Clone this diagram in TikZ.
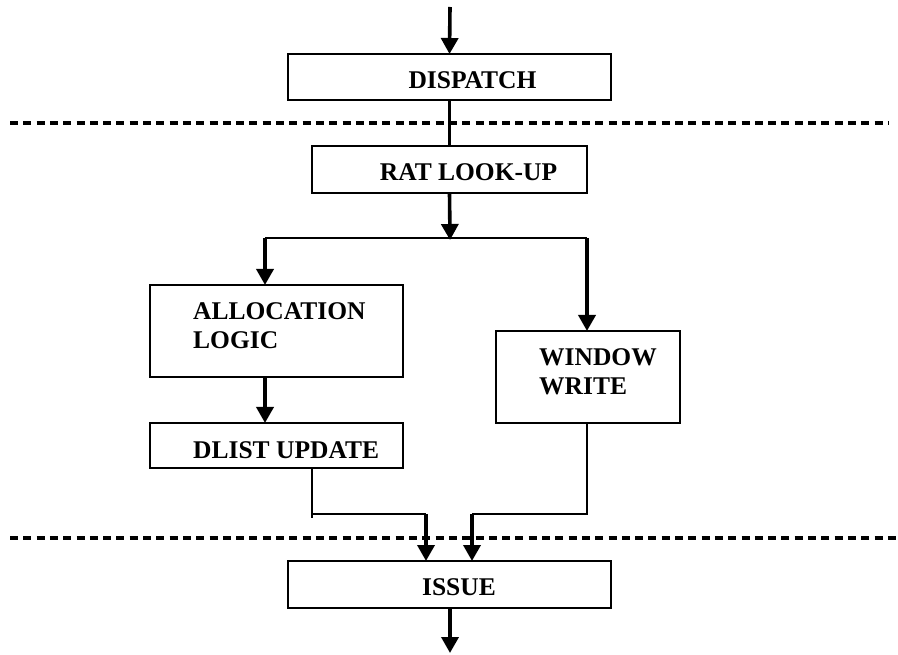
\documentclass[tikz,border=0pt]{standalone}
\usepackage{fontspec}
\setmainfont{Liberation Serif}
\usetikzlibrary{arrows.meta}
\begin{document}
\begin{tikzpicture}[x=1pt,y=-1pt,
  stagebox/.style={draw, line width=2pt, inner sep=0pt, outer sep=0pt},
  lbl/.style={inner sep=0pt, font=\fontsize{25.5}{29}\selectfont\bfseries, align=left},
  flow/.style={line width=3.6pt, -{Triangle[length=16pt,width=17pt]}},
  bus/.style={line width=3.6pt},
  wire/.style={line width=1.9pt},
  stageline/.style={line width=3.2pt, dash pattern=on 8pt off 5.3pt}]
\useasboundingbox (0,0) rectangle (898,655);

% pipeline stage boxes
\node[stagebox, minimum width=323pt, minimum height=46pt] (dispatch) at (449.5,77) {};
\node[stagebox, minimum width=275pt, minimum height=47pt] (rat) at (449.5,169.5) {};
\node[stagebox, minimum width=253pt, minimum height=92pt] (alloc) at (276.5,331) {};
\node[stagebox, minimum width=253pt, minimum height=45pt] (dlist) at (276.5,445.5) {};
\node[stagebox, minimum width=184pt, minimum height=92pt] (window) at (588,377) {};
\node[stagebox, minimum width=323pt, minimum height=47pt] (issue) at (449.5,584.5) {};

% box captions
\node[lbl] (dispatchlbl) at (472.5,80) {DISPATCH};
\node[lbl] (ratlbl) at (468.5,172.5) {RAT LOOK-UP};
\node[lbl, anchor=west] (alloclbl) at (193,326) {ALLOCATION\\LOGIC};
\node[lbl, anchor=west] (dlistlbl) at (193,450) {DLIST UPDATE};
\node[lbl, anchor=west] (windowlbl) at (539,372) {WINDOW\\WRITE};
\node[lbl] (issuelbl) at (459,587) {ISSUE};

% stage boundaries
\coordinate (sepAl) at (10,123);
\coordinate (sepAr) at (888,123);
\coordinate (sepBl) at (10,538);
\coordinate (sepBr) at (898,538);
\draw[stageline] (sepAl) -- (sepAr);
\draw[stageline] (sepBl) -- (sepBr);

% connectors
\coordinate (in) at (450,7);
\coordinate (split) at (450,238);
\coordinate (splitL) at (265,238);
\coordinate (splitR) at (587,238);
\coordinate (joinL) at (312,514);
\coordinate (joinLend) at (312,518);
\coordinate (joinR) at (587,514);
\coordinate (mergeL) at (426,514);
\coordinate (mergeR) at (472,514);
\coordinate (out) at (450,653);

\draw[flow] (in) -- (dispatch.north);
\draw[bus] (dispatch.south) -- (rat.north);
\draw[flow, shorten >=-2pt] (rat.south) -- (split);
\draw[wire] (splitL) -- (splitR);
\draw[flow] (splitL) -- (splitL |- alloc.north);
\draw[flow] (splitR) -- (splitR |- window.north);
\draw[flow] (alloc.south -| splitL) -- (dlist.north -| splitL);
\draw[wire] (dlist.south -| joinL) -- (joinLend);
\draw[wire] (joinL) -- (mergeL);
\draw[wire] (window.south -| joinR) -- (joinR) -- (mergeR);
\draw[flow] (mergeL) -- (mergeL |- issue.north);
\draw[flow] (mergeR) -- (mergeR |- issue.north);
\draw[flow] (issue.south -| out) -- (out);
\end{tikzpicture}
\end{document}
